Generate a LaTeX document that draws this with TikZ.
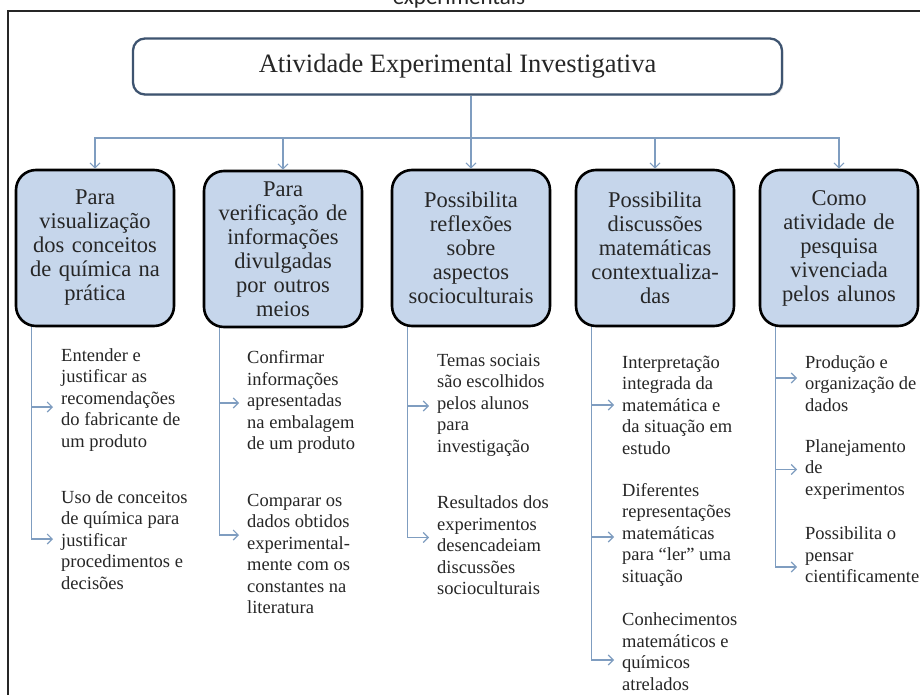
\documentclass[tikz,border=0pt]{standalone}
\usepackage{fontspec}
\setmainfont{Liberation Serif}
\newfontfamily\capfont{Carlito}
\usetikzlibrary{arrows.meta,shadows}
\definecolor{conncol}{HTML}{7F9DC0}
\definecolor{boxfill}{HTML}{C6D6EB}
\definecolor{titleline}{HTML}{3E5470}
\definecolor{txt}{HTML}{262626}
\begin{document}
\begin{tikzpicture}[x=1pt,y=-1pt,
 conn/.style={draw=conncol,line width=1.1pt},
 arr/.style={conn,-{Straight Barb[length=5pt,width=10pt]}},
 catbox/.style={draw=black,line width=2.6pt,fill=boxfill,rounded corners=20pt,
   minimum width=158pt,minimum height=156pt,text width=152pt,align=center,
   font=\fontsize{22.5}{24}\selectfont,text=txt,inner sep=0pt},
 item/.style={anchor=west,align=left,inner sep=0pt,
   font=\fontsize{18.5}{21.5}\selectfont,text=txt},
 titlebox/.style={draw=titleline,line width=2.3pt,fill=white,rounded corners=12pt,
   minimum width=649pt,minimum height=56pt,font=\fontsize{26.5}{30}\selectfont,text=txt,
   drop shadow={shadow xshift=1.5pt,shadow yshift=-1.5pt,fill=black!25}},
 frame/.style={draw=black!85,line width=2pt}
]
\useasboundingbox (0,0) rectangle (920,695);
\fill[white] (0,0) rectangle (920,695);

% caption (cut at top)
\node[anchor=base,inner sep=0pt,font=\capfont\fontsize{23}{26}\selectfont,text=txt] (cap) at (459,5) {experimentais};

% frame
\draw[frame] (8,700) -- (8,11) -- (925,11);

% title
\node[titlebox] (title) at (457.5,66.5) {Atividade Experimental Investigativa};

% category boxes
\node[catbox] (b1) at (95,248) {Para\\visualização\\dos conceitos\\de química na\\prática};
\node[catbox] (b2) at (283,249) {Para\\verificação de\\informações\\divulgadas\\por outros\\meios};
\node[catbox] (b3) at (471,248) {Possibilita\\reflexões\\sobre\\aspectos\\socioculturais};
\node[catbox] (b4) at (655,248) {Possibilita\\discussões\\matemáticas\\contextualiza-\\das};
\node[catbox] (b5) at (839,248) {Como\\atividade de\\pesquisa\\vivenciada\\pelos alunos};

% top connectors
\coordinate (hub) at (471,138);
\draw[conn] (title.south -| hub) -- (hub);
\draw[arr] (hub) -| (b1.north);
\draw[arr] (hub) -| (b2.north);
\draw[arr] (hub) -- (b3.north);
\draw[arr] (hub) -| (b4.north);
\draw[arr] (hub) -| (b5.north);

% items
\node[item] (t11) at (61,400) {Entender e\\justificar as\\recomendações\\do fabricante de\\um produto};
\node[item] (t12) at (61,540) {Uso de conceitos\\de química para\\justificar\\procedimentos e\\decisões};

\node[item] (t21) at (247,402) {Confirmar\\informações\\apresentadas\\na embalagem\\de um produto};
\node[item] (t22) at (247,554) {Comparar os\\dados obtidos\\experimental-\\mente com os\\constantes na\\literatura};

\node[item] (t31) at (437,405) {Temas sociais\\são escolhidos\\pelos alunos\\para\\investigação};
\node[item] (t32) at (437,545.5) {Resultados dos\\experimentos\\desencadeiam\\discussões\\socioculturais};

\node[item] (t41) at (622,405) {Interpretação\\integrada da\\matemática e\\da situação em\\estudo};
\node[item] (t42) at (622,534.5) {Diferentes\\representações\\matemáticas\\para “ler” uma\\situação};
\node[item] (t43) at (622,651.5) {Conhecimentos\\matemáticos e\\químicos\\atrelados};

\node[item] (t51) at (805,383.5) {Produção e\\organização de\\dados};
\node[item] (t52) at (805,469.5) {Planejamento\\de\\experimentos};
\node[item] (t53) at (805,555) {Possibilita o\\pensar\\cientificamente};

% arrow end points
\coordinate (a11) at ([xshift=-8pt,yshift=-7pt]t11.west);
\coordinate (a12) at ([xshift=-8pt,yshift=1pt]t12.west);
\coordinate (a21) at ([xshift=-8pt,yshift=-1pt]t21.west);
\coordinate (a22) at ([xshift=-8pt,yshift=19pt]t22.west);
\coordinate (a31) at ([xshift=-8pt,yshift=-1pt]t31.west);
\coordinate (a32) at ([xshift=-8pt,yshift=8pt]t32.west);
\coordinate (a41) at ([xshift=-8pt]t41.west);
\coordinate (a42) at ([xshift=-8pt,yshift=-2.5pt]t42.west);
\coordinate (a43) at ([xshift=-8pt,yshift=-8.5pt]t43.west);
\coordinate (a51) at ([xshift=-8pt,yshift=5.5pt]t51.west);
\coordinate (a52) at ([xshift=-8pt]t52.west);
\coordinate (a53) at ([xshift=-8pt,yshift=-12pt]t53.west);

% vertical line starts
\coordinate (v1) at ([xshift=17pt]b1.south west);
\coordinate (v2) at ([xshift=17pt]b2.south west);
\coordinate (v3) at ([xshift=17pt]b3.south west);
\coordinate (v4) at ([xshift=17pt]b4.south west);
\coordinate (v5) at ([xshift=17pt]b5.south west);

\draw[arr] (v1) |- (a11);
\draw[arr] (v1) |- (a12);
\draw[arr] (v2) |- (a21);
\draw[arr] (v2) |- (a22);
\draw[arr] (v3) |- (a31);
\draw[arr] (v3) |- (a32);
\draw[arr] (v4) |- (a41);
\draw[arr] (v4) |- (a42);
\draw[arr] (v4) |- (a43);
\draw[arr] (v5) |- (a51);
\draw[arr] (v5) |- (a52);
\draw[arr] (v5) |- (a53);
\end{tikzpicture}
\end{document}
